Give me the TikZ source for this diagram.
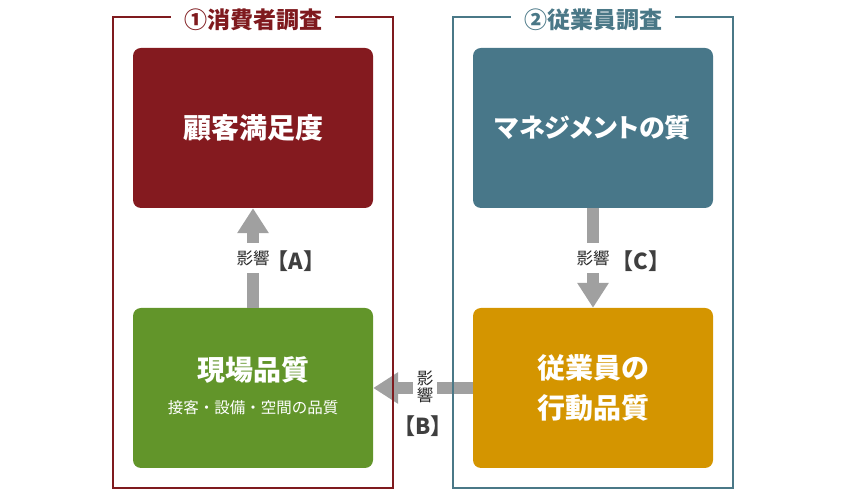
\documentclass[tikz,border=0pt]{standalone}
\usepackage{fontspec}
\setmainfont{Noto Sans CJK JP}
\usetikzlibrary{arrows.meta}

\definecolor{myred}{HTML}{841A1F}
\definecolor{mygreen}{HTML}{62952A}
\definecolor{myblue}{HTML}{487789}
\definecolor{myorange}{HTML}{D49500}
\definecolor{myframered}{HTML}{7F1A1E}
\definecolor{myframeblue}{HTML}{4A7887}
\definecolor{mygray}{HTML}{A0A0A0}
\definecolor{mytext}{HTML}{3F3F3F}

\tikzset{
  box/.style={rounded corners=8pt, minimum width=240pt, minimum height=160pt, text=white, align=center, font=\bfseries\fontsize{28}{40}\selectfont},
  boxsub/.style={text=white, font=\fontsize{15.5}{18}\selectfont},
  frame/.style={line width=1.5pt},
  frametitle/.style={fill=white, inner xsep=13pt, inner ysep=4pt, font=\bfseries\fontsize{23}{26}\selectfont},
  influence/.style={mygray, line width=12pt, -{Triangle[width=30pt, length=25pt]}},
  lbl/.style={fill=white, inner sep=0pt, minimum height=30pt, minimum width=24pt, text=black!85, align=center, font=\fontsize{16.5}{17}\selectfont},
  tag/.style={text=mytext, font=\bfseries\fontsize{22}{24}\selectfont}
}

\begin{document}
\begin{tikzpicture}[x=1pt, y=1pt]
\useasboundingbox (0,0) rectangle (846,500);

% BOXES
\node[box, fill=myred] (satisfaction) at (253,372) {顧客満足度};
\node[box, fill=myblue] (management) at (593,372) {\fontsize{26}{40}\selectfont\addfontfeatures{RawFeature=+palt}マネジメントの質};
\node[box, fill=mygreen] (site) at (253,112) {};
\node[box, fill=myorange] (behavior) at (593,112) {従業員の\\行動品質};
\node[box, minimum width=0pt, minimum height=0pt, inner sep=0pt] (sitetitle) at (253,130) {現場品質};
\node[boxsub] (sitesub) at (253,92) {接客・設備・空間の品質};

% INFLUENCE ARROWS
\draw[influence] (site.north) -- (satisfaction.south);
\draw[influence] (behavior.west) -- (site.east);
\draw[influence] (management.south) -- (behavior.north);

\node[lbl] (infA) at (253,242) {影響};
\node[lbl] (infB) at (425,113) {影\\響};
\node[lbl] (infC) at (593,242) {影響};
\node[tag] (tagA) at (296,239) {【A】};
\node[tag] (tagB) at (423,74) {【B】};
\node[tag] (tagC) at (641,239) {【C】};

% SURVEY FRAMES
\draw[frame, myframered] (113,12) rectangle (393,483);
\draw[frame, myframeblue] (453,12) rectangle (733,483);
\node[frametitle, text=myframered] (survey1) at (253,480) {①消費者調査};
\node[frametitle, text=myframeblue] (survey2) at (593,480) {②従業員調査};

\end{tikzpicture}
\end{document}
